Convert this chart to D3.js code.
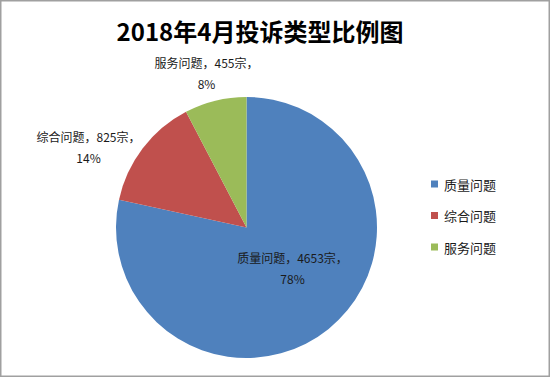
<!DOCTYPE html>
<html><head><meta charset="utf-8">
<script src="https://cdn.jsdelivr.net/npm/d3@7"></script>
<style>html,body{margin:0;padding:0;background:#fff;}svg{display:block;}</style>
</head><body>
<svg id="c" width="550" height="377"></svg>
<script>
const categories = ["质量问题", "综合问题", "服务问题"];
const values = [4653, 825, 455];
const percents = ["78%", "14%", "8%"];
const colors = ["#4F81BD", "#C0504D", "#9BBB59"];
const title = "2018年4月投诉类型比例图";

const svg = d3.select("#c");
const W = 550, H = 377;
const font = "'Noto Sans CJK SC', 'Microsoft YaHei', sans-serif";

svg.append("rect").attr("x",0.75).attr("y",0.75).attr("width",W-1.5).attr("height",H-1.5)
  .attr("fill","#fff").attr("stroke","#a0a0a0").attr("stroke-width",1.5);

svg.append("text").attr("x",260).attr("y",41).attr("text-anchor","middle")
  .attr("font-family",font).attr("font-weight","bold").attr("font-size",24)
  .attr("fill","#000").text(title);

const cx = 246.5, cy = 227.5, r = 130.5;
const pie = d3.pie().sort(null).value(d => d.v);
const data = categories.map((c,i)=>({c, v: values[i], p: percents[i], col: colors[i]}));
const arcs = pie(data);
const arc = d3.arc().innerRadius(0).outerRadius(r);
const g = svg.append("g").attr("transform",`translate(${cx},${cy})`);
g.selectAll("path").data(arcs).join("path").attr("d",arc).attr("fill",d=>d.data.col);

// label positions (relative to the pie centre, per slice)
const labelPos = [[46, 35], [-158, -86], [-40, -160]];
const lg = svg.append("g").attr("font-family",font).attr("font-size",12).attr("fill","#1a1a1a");
arcs.forEach((a,i)=>{
  const x = cx + labelPos[i][0], y = cy + labelPos[i][1];
  const t = lg.append("text").attr("text-anchor","middle");
  t.append("tspan").attr("x",x).attr("y",y).text(`${a.data.c}，${a.data.v}宗，`);
  t.append("tspan").attr("x",x).attr("y",y+21).text(a.data.p);
});

const leg = svg.append("g").attr("font-family",font).attr("font-size",13).attr("fill","#1a1a1a");
data.forEach((d,i)=>{
  const y = 184 + i*31.5;
  leg.append("rect").attr("x",431).attr("y",y-3.5).attr("width",7).attr("height",7).attr("fill",d.col);
  leg.append("text").attr("x",444).attr("y",y).attr("dominant-baseline","central").text(d.c);
});
</script>
</body></html>
